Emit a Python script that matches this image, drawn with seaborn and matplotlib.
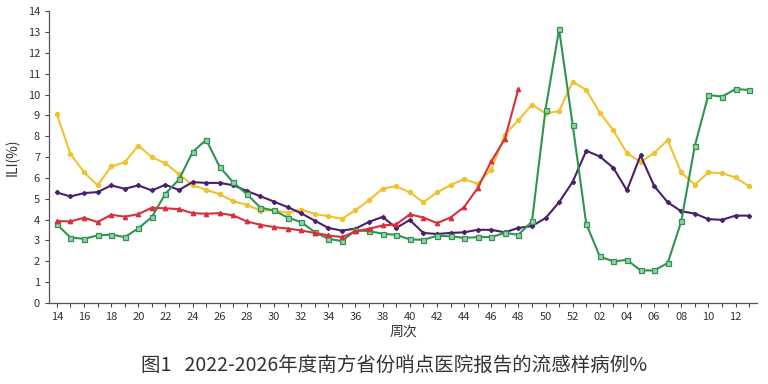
import numpy as np
import pandas as pd
import matplotlib
matplotlib.use("Agg")
import matplotlib.pyplot as plt
import seaborn as sns

# Week labels: 14..52 then 01..13
weeks = [str(w) for w in range(14, 53)] + [f"{w:02d}" for w in range(1, 14)]

yellow = [9.05, 7.15, 6.27, 5.64, 6.55, 6.75, 7.55, 6.99, 6.70, 6.17,
          5.66, 5.42, 5.22, 4.88, 4.71, 4.43, 4.44, 4.33, 4.48, 4.27,
          4.16, 4.04, 4.45, 4.93, 5.49, 5.60, 5.30, 4.83, 5.30, 5.66,
          5.94, 5.72, 6.40, 8.07, 8.77, 9.51, 9.10, 9.20, 10.61,
          10.22, 9.13, 8.28, 7.19, 6.77, 7.19, 7.81, 6.26, 5.68, 6.26,
          6.23, 6.02, 5.59]
purple = [5.30, 5.11, 5.27, 5.32, 5.64, 5.48, 5.64, 5.40, 5.67, 5.42,
          5.80, 5.76, 5.76, 5.65, 5.37, 5.12, 4.86, 4.60, 4.30, 3.95,
          3.60, 3.47, 3.57, 3.89, 4.13, 3.60, 3.98, 3.36, 3.31, 3.36,
          3.39, 3.51, 3.51, 3.39, 3.60, 3.69, 4.07, 4.83, 5.81,
          7.30, 7.03, 6.48, 5.40, 7.08, 5.62, 4.83, 4.40, 4.29, 4.02,
          3.99, 4.19, 4.19]
green = [3.77, 3.14, 3.08, 3.24, 3.28, 3.16, 3.58, 4.12, 5.25, 5.93,
         7.24, 7.83, 6.52, 5.78, 5.22, 4.57, 4.44, 4.10, 3.88, 3.40,
         3.08, 2.97, 3.48, 3.45, 3.32, 3.27, 3.05, 3.03, 3.22, 3.20,
         3.12, 3.16, 3.16, 3.36, 3.27, 3.91, 9.27, 13.13, 8.55,
         3.80, 2.23, 1.99, 2.07, 1.56, 1.56, 1.91, 3.91, 7.54, 9.98,
         9.90, 10.26, 10.22]
red = [3.93, 3.91, 4.09, 3.88, 4.23, 4.14, 4.26, 4.57, 4.54, 4.50,
       4.31, 4.28, 4.31, 4.20, 3.91, 3.75, 3.64, 3.57, 3.48, 3.36,
       3.24, 3.16, 3.43, 3.56, 3.72, 3.77, 4.25, 4.10, 3.83, 4.10,
       4.60, 5.51, 6.79, 7.86, 10.26]

sns.set_style("ticks")
plt.rcParams['font.family'] = ['Noto Sans CJK SC', 'DejaVu Sans']

fig = plt.figure(figsize=(7.68, 3.84), dpi=100)
ax = fig.add_axes([0.064, 0.211, 0.922, 0.760])

# (values, line colour, marker, size, marker face)
series = [
    (yellow, "#F0C232", "o", 3.0, "#F0C232"),
    (purple, "#4A1F6B", "D", 2.2, "#4A1F6B"),
    (green, "#2E9550", "s", 3.6, "#9CCFA8"),
    (red, "#D8303C", "^", 3.2, "#D8303C"),
]
for vals, color, marker, ms, face in series:
    df = pd.DataFrame({"x": np.arange(len(vals)), "y": vals})
    sns.lineplot(data=df, x="x", y="y", ax=ax, color=color, linewidth=1.5,
                 marker=marker, markersize=ms, markeredgecolor=color,
                 markerfacecolor=face, markeredgewidth=0.9)

ax.set_xlim(-0.57, 51.6)
ax.set_ylim(0, 14)
ax.set_yticks(range(0, 15))
ax.set_xticks(np.arange(0, len(weeks)))
ax.set_xticklabels([w if i % 2 == 0 else "" for i, w in enumerate(weeks)])
ax.tick_params(axis='both', labelsize=8, colors="#444444", length=3, width=0.8,
               labelcolor="#333333")
for side in ["top", "right"]:
    ax.spines[side].set_visible(False)
for side in ["left", "bottom"]:
    ax.spines[side].set_color("#555555")
    ax.spines[side].set_linewidth(0.9)

ax.set_xlabel("周次", fontsize=10, color="#333333", labelpad=2)
ax.set_ylabel("ILI(%)", fontsize=10, color="#333333", labelpad=6)

fig.text(0.513, 0.048, "图1   2022-2026年度南方省份哨点医院报告的流感样病例%",
         ha="center", va="center", fontsize=14, color="#333333")

fig.savefig("out.png", dpi=100)
